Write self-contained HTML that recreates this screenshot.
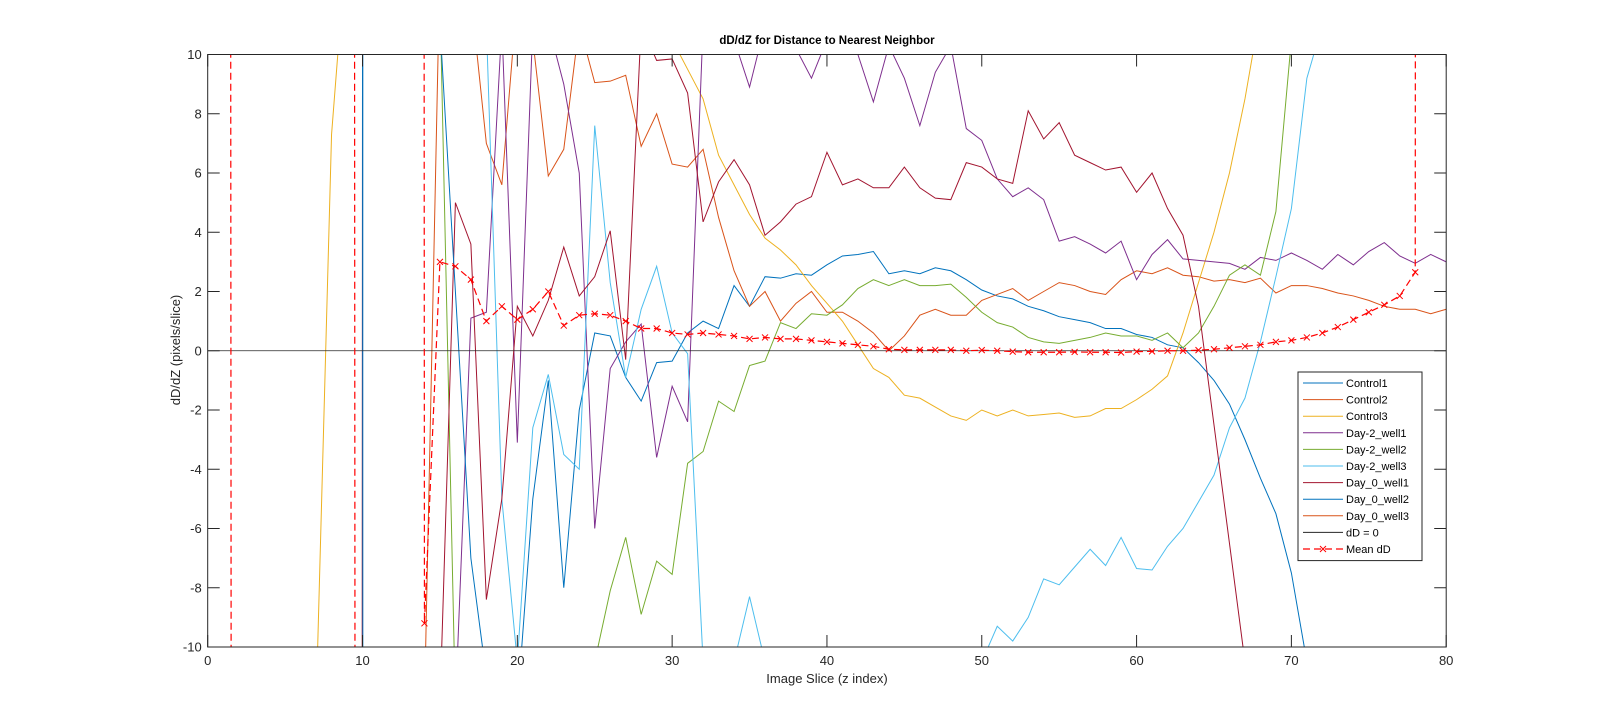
<!DOCTYPE html>
<html><head><meta charset="utf-8"><style>
html,body{margin:0;padding:0;background:#fff;overflow:hidden;width:1598px;height:727px;}
svg{display:block;font-family:"Liberation Sans",Arial,sans-serif;}
</style></head><body>
<svg id="chart" width="1598" height="727" viewBox="0 0 1598 727" xmlns="http://www.w3.org/2000/svg">
<defs><clipPath id="pc"><rect x="207.7" y="54.5" width="1238.5" height="592.5"/></clipPath></defs>
<rect x="0" y="0" width="1598" height="727" fill="#fff"/>
<text x="827" y="44" text-anchor="middle" font-size="11.5" font-weight="bold" fill="#000">dD/dZ for Distance to Nearest Neighbor</text>
<text x="827" y="683" text-anchor="middle" font-size="13" fill="#262626">Image Slice (z index)</text>
<text transform="translate(180,350) rotate(-90)" text-anchor="middle" font-size="13" fill="#262626">dD/dZ (pixels/slice)</text>
<g id="plot" clip-path="url(#pc)"></g>
<g id="axes"></g>
<g id="legend"></g>
</svg>
<script>
const xTicks = [0,10,20,30,40,50,60,70,80];
const yTicks = [-10,-8,-6,-4,-2,0,2,4,6,8,10];
const N = null;
const control1 = [N,N,N,N,N,N,N,N,N,-10.5,1000,N,N,N,N,N,N,N,N,-12,-5,-1,-8,-2,0.6,0.5,-0.9,-1.7,-0.4,-0.35,0.6,1.0,0.75,2.2,1.5,2.5,2.45,2.6,2.55,2.9,3.2,3.25,3.35,2.6,2.7,2.6,2.8,2.7,2.4,2.05,1.85,1.75,1.5,1.35,1.15,1.05,0.95,0.75,0.75,0.55,0.45,0.2,0.1,-0.4,-1.0,-1.8,-3.0,-4.3,-5.5,-7.5,-10.5,-13,N,N,N,N,N,N,N,N];
const control2 = [N,N,N,N,N,N,N,N,N,N,N,N,N,N,N,N,12,7.0,5.6,12,10.5,5.9,6.8,11,9.05,9.1,9.3,6.9,8.0,6.3,6.2,6.8,4.5,2.7,1.5,2.0,1.0,1.6,2.0,1.3,1.3,1.0,0.6,0.0,0.5,1.2,1.4,1.2,1.2,1.7,1.9,2.1,1.7,2.0,2.3,2.2,2.0,1.9,2.4,2.7,2.6,2.8,2.55,2.5,2.35,2.4,2.3,2.45,1.95,2.2,2.2,2.1,1.95,1.85,1.7,1.5,1.4,1.4,1.25,1.4];
const control3 = [N,N,N,N,N,N,-12,7.3,14,N,N,N,N,N,N,N,N,N,N,N,N,N,N,N,N,N,N,N,11,10.5,9.5,8.5,6.6,5.6,4.6,3.8,3.4,2.9,2.2,1.6,1.0,0.2,-0.6,-0.9,-1.5,-1.6,-1.9,-2.2,-2.35,-2.0,-2.2,-2.0,-2.2,-2.15,-2.1,-2.25,-2.2,-1.95,-1.95,-1.65,-1.3,-0.85,0.6,2.3,4.0,6.0,8.5,11.5,14,N,N,N,N,N,N,N,N,N,N,N];
const day2w1 = [N,N,N,N,N,N,N,N,N,N,N,N,N,N,N,-12,1.1,1.3,11,-3.1,11,11,9,6,-6,-0.6,0.3,0.9,-3.6,-1.2,-2.4,11,13,10.5,8.9,11,10.5,10.2,9.2,10.5,11,10,8.4,10.3,9.2,7.6,9.4,10.3,7.5,7.1,5.8,5.2,5.5,5.1,3.7,3.85,3.6,3.3,3.7,2.4,3.25,3.75,3.1,3.05,3.0,2.95,2.75,3.15,3.05,3.3,3.05,2.75,3.25,2.9,3.35,3.65,3.2,2.95,3.25,3.0];
const day2w2 = [N,N,N,N,N,N,N,N,N,N,N,N,N,N,12,-12,N,N,N,N,N,N,N,-12,-10.5,-8.1,-6.3,-8.9,-7.1,-7.55,-3.8,-3.4,-1.7,-2.05,-0.5,-0.35,0.95,0.75,1.25,1.2,1.55,2.1,2.4,2.2,2.4,2.2,2.2,2.25,1.8,1.3,0.95,0.8,0.45,0.3,0.25,0.35,0.45,0.6,0.5,0.5,0.35,0.6,0.1,0.6,1.5,2.55,2.9,2.55,4.7,10.5,14,N,N,N,N,N,N,N,N,N];
const day2w3 = [N,N,N,N,N,N,N,N,N,N,N,N,N,N,N,N,11,11,-5,-10.5,-2.6,-0.8,-3.5,-4.0,7.6,2.3,-0.9,1.4,2.85,0.6,-0.1,-10.5,-12,-10.5,-8.3,-10.5,-12,N,N,N,N,N,N,N,N,N,N,N,-12,-10.5,-9.3,-9.8,-9.0,-7.7,-7.9,-7.3,-6.7,-7.25,-6.3,-7.35,-7.4,-6.6,-6.0,-5.1,-4.2,-2.6,-1.6,0.3,2.5,4.8,9.2,11,N,N,N,N,N,N,N,N];
const day0w1 = [N,N,N,N,N,N,N,N,-1000,10.5,N,N,N,N,-12,5.0,3.6,-8.4,-5,1.5,0.5,1.7,3.5,1.85,2.5,4.05,-0.3,11,9.8,9.85,8.7,4.35,5.7,6.45,5.6,3.9,4.35,4.95,5.2,6.7,5.6,5.8,5.5,5.5,6.2,5.5,5.15,5.1,6.35,6.2,5.8,5.65,8.1,7.15,7.7,6.6,6.35,6.1,6.2,5.35,6.0,4.8,3.9,1.5,-2.5,-6.5,-10.5,-14,N,N,N,N,N,N,N,N,N,N,N,N];
const day0w2 = [N,N,N,N,N,N,N,N,N,10.5,-1000,N,N,N,11,2,-7,-11,N,N,N,N,N,N,N,N,N,N,N,N,N,N,N,N,N,N,N,N,N,N,N,N,N,N,N,N,N,N,N,N,N,N,N,N,N,N,N,N,N,N,N,N,N,N,N,N,N,N,N,N,N,N,N,N,N,N,N,N,N,N];
const day0w3 = [N,N,N,N,N,N,N,N,N,N,N,N,N,-12,13,N,N,N,N,N,N,N,N,N,N,N,N,N,N,N,N,N,N,N,N,N,N,N,N,N,N,N,N,N,N,N,N,N,N,N,N,N,N,N,N,N,N,N,N,N,N,N,N,N,N,N,N,N,N,N,N,N,N,N,N,N,N,N,N,N];
const meanD = [400,-400,N,N,N,N,N,N,400,-400,N,N,1000,-9.2,3.0,2.85,2.4,1.0,1.5,1.05,1.4,2.0,0.85,1.2,1.25,1.2,1.0,0.75,0.75,0.6,0.55,0.6,0.55,0.5,0.4,0.45,0.4,0.4,0.35,0.3,0.25,0.2,0.15,0.05,0.03,0.03,0.03,0.03,0.0,0.02,0.0,-0.03,-0.05,-0.05,-0.05,-0.04,-0.05,-0.05,-0.06,-0.03,-0.02,0.0,0.0,0.02,0.05,0.1,0.15,0.2,0.3,0.35,0.45,0.6,0.8,1.05,1.3,1.55,1.85,2.65,1000,N];
const seriesNames = ["Control1","Control2","Control3","Day-2_well1","Day-2_well2","Day-2_well3","Day_0_well1","Day_0_well2","Day_0_well3"];
const seriesData = [control1,control2,control3,day2w1,day2w2,day2w3,day0w1,day0w2,day0w3];
const seriesColors = ["#0072BD","#D95319","#EDB120","#7E2F8E","#77AC30","#4DBEEE","#A2142F","#0072BD","#D95319"];

const X0=207.7,X1=1446.2,Y0=647,Y1=54.5;
const sx=v=>X0+(v-0)/80*(X1-X0);
const sy=v=>Y0-(v+10)/20*(Y0-Y1);
const NS="http://www.w3.org/2000/svg";
const plot=document.getElementById('plot'),axes=document.getElementById('axes'),leg=document.getElementById('legend');
function mk(tag,attrs,parent){const e=document.createElementNS(NS,tag);for(const k in attrs)e.setAttribute(k,attrs[k]);parent.appendChild(e);return e;}
function pathFor(arr){let d='',pen=false;arr.forEach((v,i)=>{if(v===null){pen=false;return;}d+=(pen?'L':'M')+sx(i+1).toFixed(3)+','+sy(Math.max(-2000,Math.min(2000,v))).toFixed(2);pen=true;});return d;}
seriesData.forEach((arr,k)=>{
  const p=mk('path',{d:pathFor(arr),fill:'none',stroke:seriesColors[k],'stroke-width':1},plot);
  
  
});
const zl=mk('line',{x1:X0,x2:X1,y1:sy(0),y2:sy(0),stroke:'#262626','stroke-width':0.8},plot);


const mp=mk('path',{d:pathFor(meanD),fill:'none',stroke:'#ff0000','stroke-width':1.2,'stroke-dasharray':'7,4'},plot);


meanD.forEach((v,i)=>{
  if(v===null||v>10||v<-10)return;
  const cx=sx(i+1),cy=sy(v);
  const m=mk('path',{d:`M${cx-3},${cy-3}L${cx+3},${cy+3}M${cx-3},${cy+3}L${cx+3},${cy-3}`,stroke:'#ff0000','stroke-width':1},plot);
  
  
});
const box=mk('rect',{x:X0,y:Y1,width:X1-X0,height:Y0-Y1,fill:'none',stroke:'#262626','stroke-width':1},axes);


xTicks.forEach(t=>{
  const x=sx(t);
  mk('line',{x1:x,x2:x,y1:Y0,y2:Y0-12,stroke:'#262626'},axes);
  mk('line',{x1:x,x2:x,y1:Y1,y2:Y1+12,stroke:'#262626'},axes);
  const tx=mk('text',{x:x,y:Y0+18,'text-anchor':'middle','font-size':13,fill:'#262626'},axes);
  tx.textContent=t;
  
  
});
yTicks.forEach(t=>{
  const y=sy(t);
  mk('line',{x1:X0,x2:X0+12,y1:y,y2:y,stroke:'#262626'},axes);
  mk('line',{x1:X1,x2:X1-12,y1:y,y2:y,stroke:'#262626'},axes);
  const tx=mk('text',{x:X0-6,y:y+4.5,'text-anchor':'end','font-size':13,fill:'#262626'},axes);
  tx.textContent=t;
  
  
});
const LX=1298,LY=372,LW=124,RH=16.6;
const names=seriesNames.concat(["dD = 0","Mean dD"]);
const cols=seriesColors.concat(["#262626","#ff0000"]);
const lb=mk('rect',{x:LX,y:LY,width:LW,height:RH*11+6,fill:'#fff',stroke:'#262626','stroke-width':1},leg);


names.forEach((n,i)=>{
  const y=LY+11+i*RH;
  const g=mk('g',{},leg);
  
  
  const dash=(i===10)?{'stroke-dasharray':'7,4'}:{};
  mk('line',Object.assign({x1:LX+5,x2:LX+45,y1:y,y2:y,stroke:cols[i],'stroke-width':i===10?1.2:1},dash),g);
  if(i===10){mk('path',{d:`M${LX+22},${y-3}L${LX+28},${y+3}M${LX+22},${y+3}L${LX+28},${y-3}`,stroke:'#ff0000'},g);}
  const t=mk('text',{x:LX+48,y:y+4,'font-size':11,fill:'#000'},g);
  t.textContent=n;
});
</script>
</body></html>
